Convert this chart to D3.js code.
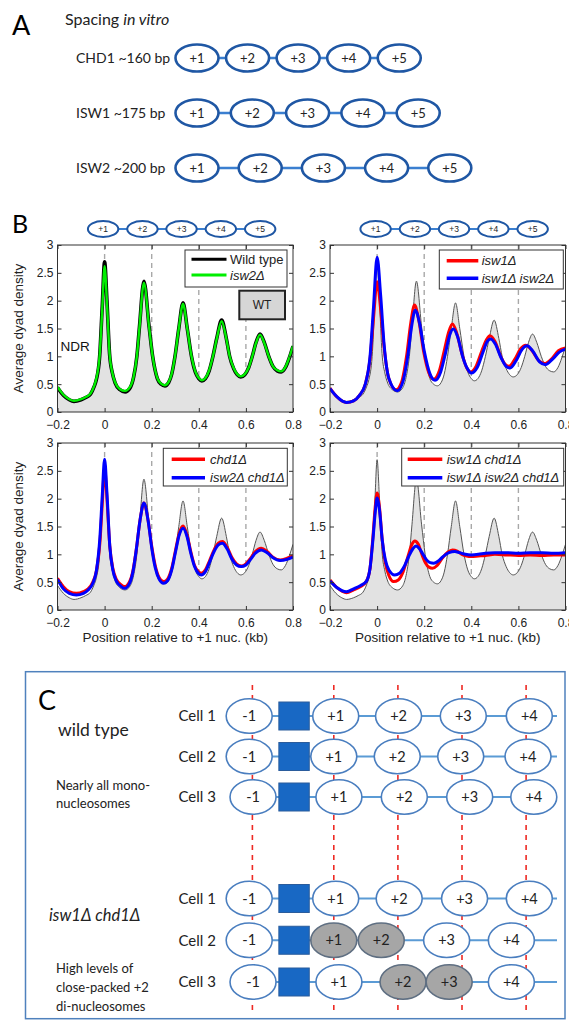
<!DOCTYPE html>
<html>
<head>
<meta charset="utf-8">
<script src="https://cdn.jsdelivr.net/npm/d3@7/dist/d3.min.js"></script>
<style>
  body { margin: 0; background: #fff; }
  svg { display: block; }
</style>
</head>
<body>
<div id="fig"></div>
<script>
// ---------- data ----------
var enzymes = ["CHD1 ~160 bp", "ISW1 ~175 bp", "ISW2 ~200 bp"];
var spacingBp = [160, 175, 200];
var nucLabels = ["+1", "+2", "+3", "+4", "+5"];

var xTicks = [-0.2, 0, 0.2, 0.4, 0.6, 0.8];
var yTicks = [0, 0.5, 1, 1.5, 2, 2.5, 3];
var chainPeaks = [0, 0.167, 0.333, 0.5, 0.667];
var guideLines = [0, 0.2, 0.4, 0.6];

// [position (kb), average dyad density]
var wildType = [[-0.2,0.44],[-0.175,0.3],[-0.15,0.22],[-0.13,0.19],[-0.1,0.22],[-0.08,0.26],[-0.06,0.32],[-0.045,0.45],[-0.035,0.58],[-0.021,1.0],[-0.01,1.9],[0,2.7],[0.01,2.0],[0.021,1.05],[0.033,0.7],[0.045,0.52],[0.065,0.4],[0.087,0.36],[0.108,0.43],[0.123,0.62],[0.137,1.0],[0.148,1.53],[0.167,2.35],[0.189,1.53],[0.204,1.0],[0.224,0.6],[0.24,0.5],[0.256,0.47],[0.272,0.53],[0.285,0.68],[0.299,1.0],[0.315,1.5],[0.333,1.96],[0.351,1.5],[0.369,1.0],[0.385,0.72],[0.4,0.6],[0.413,0.56],[0.428,0.6],[0.444,0.74],[0.46,1.0],[0.476,1.32],[0.497,1.65],[0.517,1.32],[0.531,1.0],[0.548,0.78],[0.563,0.67],[0.578,0.63],[0.595,0.67],[0.612,0.8],[0.627,1.0],[0.643,1.25],[0.66,1.4],[0.678,1.25],[0.697,1.0],[0.715,0.82],[0.733,0.74],[0.75,0.72],[0.768,0.8],[0.785,0.98],[0.8,1.18]];

var isw2 = [[-0.2,0.45],[-0.175,0.31],[-0.15,0.23],[-0.13,0.2],[-0.1,0.23],[-0.08,0.27],[-0.06,0.33],[-0.045,0.46],[-0.035,0.6],[-0.021,1.02],[-0.01,1.85],[0,2.62],[0.01,1.95],[0.021,1.05],[0.033,0.7],[0.045,0.53],[0.065,0.41],[0.087,0.38],[0.108,0.45],[0.123,0.63],[0.137,1.0],[0.148,1.52],[0.167,2.32],[0.189,1.52],[0.204,1.0],[0.224,0.61],[0.24,0.51],[0.256,0.48],[0.272,0.54],[0.285,0.69],[0.299,1.0],[0.315,1.5],[0.333,1.94],[0.351,1.5],[0.369,1.0],[0.385,0.73],[0.4,0.61],[0.413,0.57],[0.428,0.61],[0.444,0.75],[0.46,1.0],[0.476,1.31],[0.497,1.63],[0.517,1.31],[0.531,1.0],[0.548,0.79],[0.563,0.68],[0.578,0.64],[0.595,0.68],[0.612,0.8],[0.627,1.0],[0.643,1.24],[0.66,1.39],[0.678,1.24],[0.697,1.0],[0.715,0.82],[0.733,0.75],[0.75,0.73],[0.768,0.81],[0.785,0.99],[0.8,1.19]];

var isw1 = [[-0.2,0.43],[-0.17,0.27],[-0.13,0.17],[-0.1,0.2],[-0.075,0.3],[-0.05,0.5],[-0.03,0.95],[-0.015,1.7],[0,2.34],[0.015,1.85],[0.03,1.15],[0.05,0.6],[0.08,0.4],[0.105,0.55],[0.125,1.0],[0.143,1.6],[0.159,1.92],[0.177,1.65],[0.197,1.1],[0.22,0.7],[0.24,0.59],[0.265,0.75],[0.285,1.1],[0.305,1.45],[0.32,1.58],[0.338,1.42],[0.36,1.05],[0.38,0.8],[0.397,0.72],[0.42,0.82],[0.445,1.1],[0.465,1.3],[0.479,1.37],[0.5,1.27],[0.525,1.0],[0.545,0.85],[0.56,0.82],[0.585,0.95],[0.61,1.14],[0.631,1.2],[0.655,1.12],[0.685,0.93],[0.711,0.87],[0.74,0.95],[0.77,1.1],[0.8,1.15]];

var isw1isw2 = [[-0.2,0.42],[-0.17,0.27],[-0.13,0.17],[-0.1,0.2],[-0.075,0.3],[-0.05,0.5],[-0.03,1.0],[-0.015,1.9],[0,2.78],[0.015,2.1],[0.03,1.2],[0.05,0.6],[0.085,0.38],[0.11,0.55],[0.13,1.0],[0.147,1.55],[0.162,1.83],[0.18,1.6],[0.2,1.1],[0.225,0.68],[0.246,0.57],[0.27,0.72],[0.29,1.05],[0.308,1.38],[0.324,1.49],[0.342,1.35],[0.363,1.0],[0.383,0.78],[0.4,0.7],[0.425,0.8],[0.45,1.08],[0.468,1.27],[0.482,1.31],[0.502,1.22],[0.527,0.97],[0.548,0.82],[0.565,0.79],[0.59,0.92],[0.615,1.12],[0.637,1.19],[0.66,1.1],[0.69,0.9],[0.715,0.85],[0.745,0.95],[0.775,1.08],[0.8,1.13]];

var chd1 = [[-0.2,0.57],[-0.175,0.42],[-0.15,0.33],[-0.12,0.3],[-0.09,0.33],[-0.07,0.38],[-0.05,0.5],[-0.035,0.7],[-0.02,1.2],[-0.01,1.9],[0,2.55],[0.01,2.0],[0.022,1.15],[0.035,0.75],[0.05,0.55],[0.068,0.46],[0.085,0.42],[0.105,0.5],[0.12,0.7],[0.135,1.1],[0.15,1.6],[0.167,1.92],[0.185,1.6],[0.2,1.15],[0.215,0.8],[0.232,0.58],[0.25,0.51],[0.268,0.56],[0.285,0.75],[0.3,1.05],[0.317,1.38],[0.333,1.51],[0.35,1.35],[0.366,1.05],[0.382,0.8],[0.396,0.7],[0.41,0.66],[0.428,0.72],[0.445,0.88],[0.465,1.08],[0.483,1.2],[0.5,1.23],[0.52,1.13],[0.54,0.95],[0.56,0.83],[0.58,0.79],[0.6,0.83],[0.62,0.93],[0.64,1.05],[0.665,1.11],[0.69,1.05],[0.715,0.95],[0.745,0.9],[0.775,0.93],[0.8,0.97]];

var isw2chd1 = [[-0.2,0.55],[-0.175,0.38],[-0.15,0.3],[-0.12,0.27],[-0.09,0.3],[-0.07,0.36],[-0.05,0.48],[-0.035,0.7],[-0.02,1.3],[-0.01,2.05],[0,2.71],[0.01,2.1],[0.022,1.15],[0.035,0.72],[0.05,0.52],[0.068,0.43],[0.085,0.39],[0.105,0.47],[0.12,0.68],[0.135,1.1],[0.15,1.6],[0.167,1.92],[0.185,1.6],[0.2,1.12],[0.215,0.76],[0.232,0.55],[0.25,0.48],[0.268,0.53],[0.285,0.72],[0.3,1.02],[0.317,1.35],[0.333,1.47],[0.35,1.32],[0.366,1.02],[0.382,0.78],[0.396,0.67],[0.41,0.63],[0.428,0.69],[0.445,0.85],[0.465,1.05],[0.483,1.17],[0.5,1.2],[0.52,1.1],[0.54,0.92],[0.56,0.81],[0.58,0.78],[0.6,0.81],[0.62,0.91],[0.64,1.02],[0.665,1.08],[0.69,1.03],[0.715,0.94],[0.745,0.89],[0.775,0.91],[0.8,0.95]];

var isw1chd1 = [[-0.2,0.54],[-0.17,0.4],[-0.13,0.31],[-0.1,0.36],[-0.07,0.42],[-0.045,0.52],[-0.03,0.75],[-0.018,1.3],[-0.008,1.85],[0,2.1],[0.01,1.85],[0.022,1.25],[0.035,0.85],[0.05,0.62],[0.07,0.51],[0.09,0.54],[0.11,0.68],[0.13,0.95],[0.148,1.18],[0.16,1.24],[0.175,1.18],[0.19,1.0],[0.205,0.85],[0.22,0.77],[0.235,0.75],[0.255,0.8],[0.275,0.92],[0.3,1.04],[0.32,1.08],[0.34,1.06],[0.36,1.0],[0.38,0.97],[0.4,0.96],[0.43,0.97],[0.46,0.98],[0.5,1.0],[0.55,0.99],[0.6,0.98],[0.65,0.99],[0.7,0.98],[0.75,0.99],[0.8,0.99]];

var isw1isw2chd1 = [[-0.2,0.52],[-0.17,0.4],[-0.13,0.33],[-0.1,0.38],[-0.07,0.44],[-0.045,0.52],[-0.03,0.75],[-0.018,1.25],[-0.008,1.75],[0,2.01],[0.01,1.8],[0.022,1.25],[0.035,0.9],[0.05,0.72],[0.075,0.63],[0.095,0.66],[0.115,0.78],[0.135,0.97],[0.152,1.1],[0.165,1.15],[0.18,1.1],[0.195,1.0],[0.21,0.9],[0.225,0.85],[0.24,0.84],[0.26,0.88],[0.28,0.96],[0.305,1.03],[0.33,1.05],[0.35,1.03],[0.375,1.0],[0.4,0.99],[0.43,1.0],[0.46,1.02],[0.5,1.03],[0.55,1.03],[0.6,1.02],[0.65,1.03],[0.7,1.03],[0.75,1.02],[0.8,1.03]];

// panel C: nucleosome positions in units of nucleosome repeats (+1 = 0)
var cLabels = ["-1", "+1", "+2", "+3", "+4"];
var refPos = [-1.27, 0, 1, 2, 3];
var promoterPos = -0.62;
var wtCells = [[-1.32, 0.03, 1.01, 2.02, 3.05], [-1.32, 0, 0.99, 1.98, 3.03], [-1.26, 0.08, 1.1, 2.12, 3.12]];
var mutCells = [[-1.32, 0.03, 1.02, 2.04, 3.05], [-1.32, 0, 0.74, 1.76, 2.77], [-1.26, 0.08, 1.08, 1.8, 2.77]];
var mutPacked = [[], ["+1", "+2"], ["+2", "+3"]];
var cellNames = ["Cell 1", "Cell 2", "Cell 3"];

// ---------- drawing ----------
var W = 569, H = 1023;
var svg = d3.select("#fig").append("svg").attr("width", W).attr("height", H);
var lato = "Lato, 'Open Sans', sans-serif";
var helv = "'Liberation Sans', Arial, sans-serif";
var darkBlue = "#1f57a4";

// ---- panel A ----
svg.append("text").attr("x", 12).attr("y", 35).style("font", "27px " + lato).text("A");
var titleA = svg.append("text").attr("x", 65).attr("y", 25).style("font", "16px " + lato).attr("fill", "#222");
titleA.append("tspan").text("Spacing ");
titleA.append("tspan").style("font-style", "italic").text("in vitro");

var rowA = d3.scalePoint().domain(enzymes).range([58, 168]);
var bpPx = d3.scaleLinear().domain([0, 200]).range([0, 63.2]);

enzymes.forEach(function(name, r) {
  var gy = rowA(name);
  var cx = function(i) { return 197 + i * bpPx(spacingBp[r]); };
  svg.append("text").attr("x", 76).attr("y", gy).attr("dy", "0.35em")
    .style("font", "14px " + lato).attr("fill", "#222").text(name);
  svg.append("line").attr("x1", cx(0)).attr("x2", cx(4)).attr("y1", gy).attr("y2", gy)
    .attr("stroke", "#3b7fd0").attr("stroke-width", 2.5);
  var g = svg.append("g").selectAll("g").data(nucLabels).enter().append("g")
    .attr("transform", function(d, i) { return "translate(" + cx(i) + "," + gy + ")"; });
  g.append("ellipse").attr("rx", 21.5).attr("ry", 13.5)
    .attr("fill", "#fff").attr("stroke", darkBlue).attr("stroke-width", 2.6);
  g.append("text").attr("text-anchor", "middle").attr("dy", "0.36em")
    .style("font", "13px " + lato).attr("fill", "#222").text(function(d) { return d; });
});

// ---- panel B ----
svg.append("text").attr("x", 12).attr("y", 233).style("font", "25px " + lato).text("B");

var panels = [
  {left: 57.5, top: 245, wtStyle: "black",
   series: [{d: wildType, c: "#000", w: 3.6, name: "Wild type", it: false},
            {d: isw2, c: "#00ee00", w: 2.4, name: "isw2Δ", it: true}],
   leg: {dx: 127.5, dy: 5, w: 102, h: 37, lx: 6.5, lw: 35, tx: 45, r0: 9.3, r1: 25},
   chain: true, ylabel: true, xlabel: false},
  {left: 330, top: 245,
   series: [{d: isw1, c: "#ff0000", w: 3, name: "isw1Δ", it: true},
            {d: isw1isw2, c: "#0000ff", w: 3, name: "isw1Δ isw2Δ", it: true}],
   leg: {dx: 109.3, dy: 5, w: 124, h: 39, lx: 7.4, lw: 31.6, tx: 42.4, r0: 10.7, r1: 28.3},
   chain: true, ylabel: false, xlabel: false},
  {left: 57.5, top: 443,
   series: [{d: chd1, c: "#ff0000", w: 3, name: "chd1Δ", it: true},
            {d: isw2chd1, c: "#0000ff", w: 3, name: "isw2Δ chd1Δ", it: true}],
   leg: {dx: 105.8, dy: 5.3, w: 124, h: 37.7, lx: 8.4, lw: 33.3, tx: 46.7, r0: 11, r1: 29.4},
   chain: false, ylabel: true, xlabel: true},
  {left: 330, top: 443,
   series: [{d: isw1chd1, c: "#ff0000", w: 3, name: "isw1Δ chd1Δ", it: true},
            {d: isw1isw2chd1, c: "#0000ff", w: 3, name: "isw1Δ isw2Δ chd1Δ", it: true}],
   leg: {dx: 71.7, dy: 5.3, w: 162, h: 37.7, lx: 6, lw: 34.6, tx: 45, r0: 11, r1: 29.4},
   chain: false, ylabel: false, xlabel: true}
];
var pw = 235.5, ph = 167;

panels.forEach(function(p, pi) {
  var x = d3.scaleLinear().domain([-0.2, 0.8]).range([0, pw]);
  var y = d3.scaleLinear().domain([0, 3]).range([ph, 0]);
  var g = svg.append("g").attr("transform", "translate(" + p.left + "," + p.top + ")");

  g.append("clipPath").attr("id", "clip" + pi).append("rect").attr("width", pw).attr("height", ph);
  var plot = g.append("g").attr("clip-path", "url(#clip" + pi + ")");

  // guide lines
  plot.selectAll(".guide").data(guideLines).enter().append("line")
    .attr("x1", function(d) { return x(d); }).attr("x2", function(d) { return x(d); })
    .attr("y1", 0).attr("y2", ph)
    .attr("stroke", "#a8a8a8").attr("stroke-width", 1.4).attr("stroke-dasharray", "5,4");

  // wild-type area
  var area = d3.area().x(function(d) { return x(d[0]); }).y0(ph).y1(function(d) { return y(d[1]); })
    .curve(d3.curveMonotoneX);
  var line = d3.line().x(function(d) { return x(d[0]); }).y(function(d) { return y(d[1]); })
    .curve(d3.curveMonotoneX);
  plot.append("path").datum(wildType).attr("d", area).attr("fill", "#e2e2e2");
  if (!p.wtStyle) {
    plot.append("path").datum(wildType).attr("d", line).attr("fill", "none")
      .attr("stroke", "#555").attr("stroke-width", 1);
  }
  p.series.forEach(function(s) {
    plot.append("path").datum(s.d).attr("d", line).attr("fill", "none")
      .attr("stroke", s.c).attr("stroke-width", s.w).attr("stroke-linejoin", "round");
  });

  // axes (ticks inside, MATLAB style)
  var fmtX = function(d) { return d === 0 ? "0" : d3.format(".1f")(d); };
  g.append("g").attr("transform", "translate(0," + ph + ")")
    .call(d3.axisBottom(x).tickValues(xTicks).tickSize(-4).tickPadding(8).tickFormat(fmtX));
  g.append("g")
    .call(d3.axisLeft(y).tickValues(yTicks).tickSize(-4).tickPadding(4).tickFormat(function(d) { return String(d); }));
  g.append("g").call(d3.axisTop(x).tickValues(xTicks).tickSize(-4).tickFormat(""));
  g.append("g").attr("transform", "translate(" + pw + ",0)")
    .call(d3.axisRight(y).tickValues(yTicks).tickSize(-4).tickFormat(""));
  g.selectAll(".domain").remove();
  g.selectAll(".tick line").attr("stroke", "#333");
  g.selectAll(".tick text").style("font", "12px " + helv).attr("fill", "#222");
  g.append("rect").attr("width", pw).attr("height", ph).attr("fill", "none")
    .attr("stroke", "#333").attr("stroke-width", 1);

  // legend
  var L = p.leg;
  var lg = g.append("g").attr("transform", "translate(" + L.dx + "," + L.dy + ")");
  lg.append("rect").attr("width", L.w).attr("height", L.h).attr("fill", "#fff")
    .attr("stroke", "#333").attr("stroke-width", 1);
  p.series.forEach(function(s, i) {
    var ry = i === 0 ? L.r0 : L.r1;
    lg.append("line").attr("x1", L.lx).attr("x2", L.lx + L.lw).attr("y1", ry).attr("y2", ry)
      .attr("stroke", s.c).attr("stroke-width", s.w > 3 ? 3 : s.w + 0.5);
    lg.append("text").attr("x", L.tx).attr("y", ry).attr("dy", "0.36em")
      .style("font", "13px " + helv).style("font-style", s.it ? "italic" : "normal")
      .attr("fill", "#222").text(s.name);
  });

  if (pi === 0) {
    g.append("rect").attr("x", 181.8).attr("y", 45.7).attr("width", 45.7).attr("height", 28.6)
      .attr("fill", "#d6d6d6").attr("stroke", "#222").attr("stroke-width", 2);
    g.append("text").attr("x", 204.6).attr("y", 60).attr("dy", "0.36em").attr("text-anchor", "middle")
      .style("font", "12px " + helv).attr("fill", "#222").text("WT");
    g.append("text").attr("x", 3).attr("y", 101).attr("dy", "0.36em")
      .style("font", "13.5px " + helv).attr("fill", "#111").text("NDR");
  }

  if (p.chain) {
    var cg = svg.append("g").attr("transform", "translate(" + p.left + ",229)");
    cg.append("line").attr("x1", x(chainPeaks[0]) - 1.5).attr("x2", x(chainPeaks[4]) - 1.5)
      .attr("stroke", "#3b7fd0").attr("stroke-width", 2);
    var n = cg.selectAll("g").data(chainPeaks).enter().append("g")
      .attr("transform", function(d) { return "translate(" + (x(d) - 1.5) + ",0)"; });
    n.append("ellipse").attr("rx", 15.2).attr("ry", 8).attr("fill", "#fff")
      .attr("stroke", darkBlue).attr("stroke-width", 2);
    n.append("text").attr("text-anchor", "middle").attr("dy", "0.35em")
      .style("font", "8.5px " + helv).attr("fill", "#222").text(function(d, i) { return nucLabels[i]; });
  }

  if (p.ylabel) {
    g.append("text").attr("transform", "translate(-35," + (ph / 2) + ") rotate(-90)")
      .attr("text-anchor", "middle").style("font", "13.5px " + helv).attr("fill", "#222")
      .text("Average dyad density");
  }
  if (p.xlabel) {
    g.append("text").attr("x", pw / 2).attr("y", ph + 32).attr("text-anchor", "middle")
      .style("font", "13.5px " + helv).attr("fill", "#222")
      .text("Position relative to +1 nuc. (kb)");
  }
});

// ---- panel C ----
svg.append("rect").attr("x", 25.5).attr("y", 671.7).attr("width", 539.5).attr("height", 347)
  .attr("fill", "none").attr("stroke", "#4f81bd").attr("stroke-width", 1.5);
svg.append("text").attr("x", 38).attr("y", 710).style("font", "27px " + lato).text("C");

var u = d3.scaleLinear().domain([0, 3]).range([333.8, 526.1]);

svg.selectAll(".ref").data(refPos).enter().append("line")
  .attr("x1", function(d) { return u(d); }).attr("x2", function(d) { return u(d); })
  .attr("y1", 685).attr("y2", 1013)
  .attr("stroke", "#ee2a24").attr("stroke-width", 1.6).attr("stroke-dasharray", "5,5");

function drawCell(pos, yy, name, packed) {
  svg.append("text").attr("x", 178.5).attr("y", yy).attr("dy", "0.36em")
    .style("font", "15px " + lato).attr("fill", "#222").text(name);
  svg.append("line").attr("x1", u(pos[0])).attr("x2", 557).attr("y1", yy).attr("y2", yy)
    .attr("stroke", "#5b9bd5").attr("stroke-width", 2);
  svg.append("rect").attr("x", u(promoterPos) - 15.2).attr("y", yy - 14).attr("width", 30.4).attr("height", 28)
    .attr("fill", "#1868c4").attr("stroke", "#2a5c9c").attr("stroke-width", 1);
  var g = svg.append("g").selectAll("g").data(pos).enter().append("g")
    .attr("transform", function(d) { return "translate(" + u(d) + "," + yy + ")"; });
  g.append("ellipse").attr("rx", 23).attr("ry", 17.3)
    .attr("fill", function(d, i) { return packed.indexOf(cLabels[i]) >= 0 ? "#a6a6a6" : "#fff"; })
    .attr("stroke", function(d, i) { return packed.indexOf(cLabels[i]) >= 0 ? "#5f6f82" : "#4a7ebf"; })
    .attr("stroke-width", 1.6);
  g.append("text").attr("text-anchor", "middle").attr("dy", "0.36em")
    .style("font", "14.5px " + lato).attr("fill", "#222").text(function(d, i) { return cLabels[i]; });
}

var rowWT = d3.scalePoint().domain(cellNames).range([716, 797]);
var rowMut = d3.scalePoint().domain(cellNames).range([898.5, 982]);
cellNames.forEach(function(c, i) {
  drawCell(wtCells[i], rowWT(c), c, []);
  drawCell(mutCells[i], rowMut(c), c, mutPacked[i]);
});

svg.append("text").attr("x", 58).attr("y", 730).attr("dy", "0.36em")
  .style("font", "17.5px " + lato).attr("fill", "#222").text("wild type");
svg.append("text").attr("x", 56).attr("y", 785).attr("dy", "0.36em")
  .style("font", "13px " + lato).attr("fill", "#222").text("Nearly all mono-");
svg.append("text").attr("x", 56).attr("y", 803.5).attr("dy", "0.36em")
  .style("font", "13px " + lato).attr("fill", "#222").text("nucleosomes");

svg.append("text").attr("x", 49).attr("y", 915).attr("dy", "0.36em")
  .style("font", "italic 16.5px " + lato).attr("fill", "#222").text("isw1Δ chd1Δ");
svg.append("text").attr("x", 56).attr("y", 968.5).attr("dy", "0.36em")
  .style("font", "13px " + lato).attr("fill", "#222").text("High levels of");
svg.append("text").attr("x", 56).attr("y", 987).attr("dy", "0.36em")
  .style("font", "13px " + lato).attr("fill", "#222").text("close-packed +2");
svg.append("text").attr("x", 56).attr("y", 1006.5).attr("dy", "0.36em")
  .style("font", "13px " + lato).attr("fill", "#222").text("di-nucleosomes");
</script>
</body>
</html>
